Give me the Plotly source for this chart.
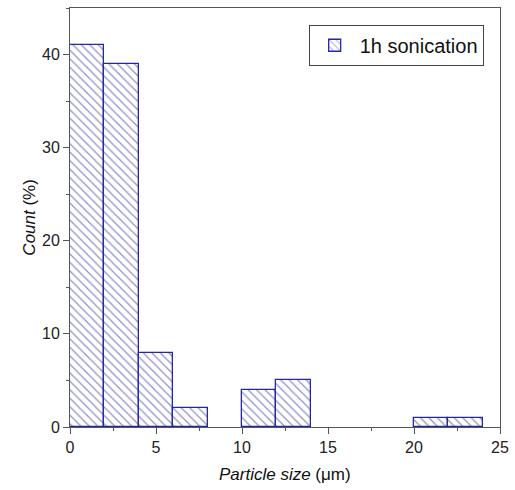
import plotly.graph_objects as go

bin_left = [0, 2, 4, 6, 10, 12, 20, 22]
bin_width = [2, 2, 2, 2, 2, 2, 2, 2]
count_pct = [41, 39, 8, 2, 4, 5, 1, 1]
series_name = "1h sonication"

centers = [l + w / 2 for l, w in zip(bin_left, bin_width)]

fig = go.Figure()
fig.add_trace(go.Bar(
    x=centers, y=count_pct, width=bin_width, name=series_name,
    marker=dict(color="white", line=dict(color="#2626a8", width=1.3),
                pattern=dict(shape="\\", fgcolor="#1e1e9e", bgcolor="white",
                             size=6, solidity=0.2)),
    showlegend=True,
))

font_family = "Liberation Sans, Arial"
axis_common = dict(
    showline=True, linecolor="#555", linewidth=1, mirror=True, automargin=False,
    ticks="outside", ticklen=6, tickcolor="#555", showgrid=False, zeroline=False,
    tickfont=dict(family=font_family, size=16, color="#222"),
)
fig.update_xaxes(range=[0, 25], tickvals=[0, 5, 10, 15, 20, 25],
                 minor=dict(ticks="outside", ticklen=3, tickcolor="#555", dtick=2.5),
                 **axis_common)
fig.update_yaxes(range=[0, 45], tickvals=[0, 10, 20, 30, 40],
                 minor=dict(ticks="outside", ticklen=3, tickcolor="#555", dtick=5),
                 **axis_common)

fig.add_annotation(xref="paper", yref="paper", x=0.5, y=-0.085, yanchor="top",
                   showarrow=False, text="<i>Particle size</i> (μm)",
                   font=dict(family=font_family, size=17, color="#111"))
fig.add_annotation(xref="paper", yref="paper", x=-0.095, y=0.5, xanchor="center",
                   textangle=-90, showarrow=False, text="<i>Count</i> (%)",
                   font=dict(family=font_family, size=17, color="#111"))

fig.update_layout(
    width=515, height=490,
    margin=dict(l=70, r=15, t=8, b=63),
    plot_bgcolor="white", paper_bgcolor="white",
    bargap=0,
    legend=dict(x=0.555, y=0.96, xanchor="left", yanchor="top",
                bordercolor="#444", borderwidth=1, bgcolor="white",
                font=dict(family=font_family, size=20, color="#111"),
                itemwidth=40),
)

fig.write_html("out.html", config={"displayModeBar": False},
               post_script="document.body.style.margin='0px';document.body.style.overflow='hidden';")
